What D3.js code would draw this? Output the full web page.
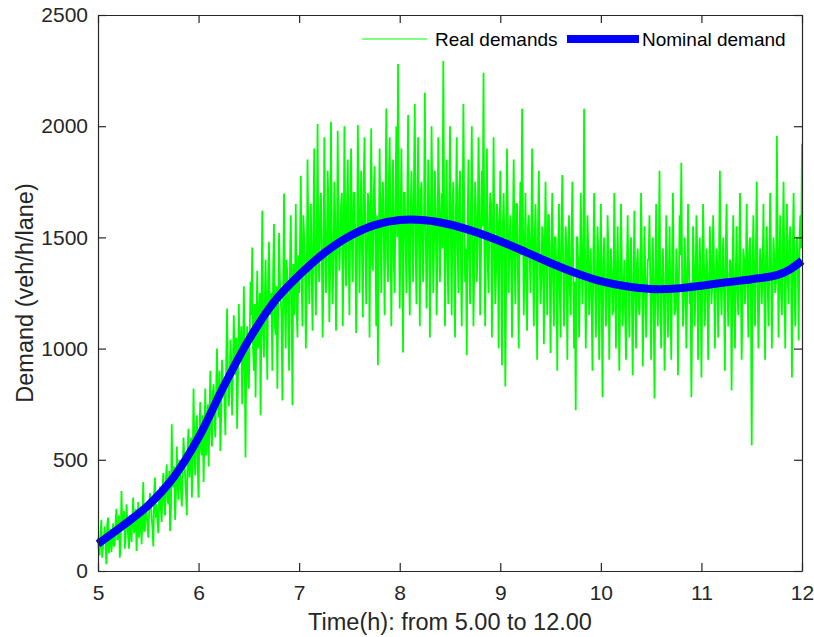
<!DOCTYPE html>
<html>
<head>
<meta charset="utf-8">
<script src="https://cdn.jsdelivr.net/npm/d3@7"></script>
<style>
  body { margin: 0; background: #fff; }
  svg { display: block; font-family: "Liberation Sans", Arial, Helvetica, sans-serif; }
</style>
</head>
<body>
<svg id="chart" width="814" height="637"></svg>
<script>
// samples on each full minute from 5:00 to 12:00
const startHour = 5;
const realDemandMinute = [
  150, 70, 230, 110, 200, 30, 240, 140, 85, 215,
  120, 280, 160, 60, 360, 190, 100, 300, 150, 250,
  130, 330, 190, 90, 310, 210, 120, 400, 180, 260,
  150, 350, 240, 110, 420, 300, 170, 380, 220, 440,
  250, 480, 300, 180, 660, 380, 230, 560, 320, 470,
  290, 600, 420, 250, 640, 500, 330, 820, 430, 700,
  330, 760, 520, 400, 820, 620, 470, 900, 560, 840,
  600, 1000, 690, 540, 950, 820, 610, 1180, 740, 1040,
  700, 1150, 880, 640, 1200, 960, 750, 1280, 510, 1100,
  820, 1300, 1454, 900, 780, 1350, 1080, 700, 1620, 960,
  1400, 860, 1480, 1150, 900, 1560, 1060, 820, 1520, 1220,
  767, 1697, 1000, 1320, 900, 1600, 745, 1150, 1650, 1050,
  1250, 1777, 1100, 1500, 1000, 1850, 1200, 1650, 1080, 1900,
  1150, 2010, 1300, 1700, 1050, 1950, 1250, 1800, 1120, 2020,
  1200, 1750, 1080, 1980, 1350, 1650, 1100, 2000, 1280, 1850,
  1150, 1900, 1300, 1700, 1070, 2005, 1250, 1800, 1140, 1950,
  1200, 1700, 1050, 1990, 1350, 1820, 1100, 925, 1900, 1250,
  1750, 1150, 2080, 1300, 1950, 1100, 1850, 1250, 2000, 2280,
  1180, 1900, 983, 1700, 1250, 2050, 1150, 1800, 1300, 2100,
  1200, 1950, 1100, 1750, 1300, 2150, 1180, 1850, 1050, 2000,
  1250, 1800, 1150, 1950, 1300, 1700, 2293, 1100, 1850, 1200,
  2000, 1150, 1750, 1050, 1950, 1250, 1800, 1100, 2100, 1300,
  970, 1850, 1200, 2000, 1100, 1750, 1300, 1950, 1150, 1800,
  2240, 1100, 1900, 1250, 1700, 1050, 1950, 1200, 1650, 1000,
  1800, 925, 1700, 830, 1900, 1250, 1600, 1050, 1850, 1200,
  1650, 1000, 1750, 2078, 1150, 1700, 1080, 1600, 1250, 1900,
  1100, 1650, 950, 1800, 1200, 1550, 1020, 1750, 1150, 1600,
  980, 1700, 1100, 1500, 900, 1650, 1050, 1780, 1100, 1550,
  950, 1600, 1150, 1750, 1000, 723, 1500, 1050, 1700, 1200,
  2078, 1000, 1600, 1150, 1450, 900, 1700, 1050, 1550, 950,
  1650, 781, 1500, 1100, 1600, 950, 1450, 1150, 1700, 1000,
  1550, 900, 1650, 1100, 1400, 950, 1600, 1050, 1500, 880,
  1620, 1000, 1450, 1150, 1700, 920, 1550, 1050, 1400, 1600,
  950, 1500, 776, 1650, 1100, 1800, 1000, 1450, 900, 1600,
  1050, 1550, 950, 1700, 1150, 1450, 880, 1600, 1836, 1100,
  1500, 1000, 1650, 1200, 781, 1550, 1100, 1600, 950, 1500,
  870, 1650, 1100, 1450, 950, 1550, 1200, 1600, 1000, 1450,
  1050, 1800, 1150, 1500, 900, 1650, 1100, 1400, 812, 1600,
  1000, 1550, 1150, 1700, 950, 1450, 1200, 1650, 1050, 1500,
  565, 1600, 1100, 1750, 1000, 1450, 1200, 1650, 950, 1550,
  1100, 1700, 1000, 1500, 1250, 1957, 1050, 1600, 1150, 1750,
  1000, 1650, 1200, 1550, 870, 1700, 1100, 1500, 1036, 1600,
  1921
];
// samples at the half minute (5:00:30, 5:01:30, ... 11:59:30)
const realDemandHalfMinute = [
  90, 170, 60, 150, 120, 210, 80, 190, 140, 110,
  220, 140, 250, 120, 200, 270, 160, 230, 100, 190,
  240, 170, 280, 200, 150, 290, 230, 180, 300, 210,
  260, 310, 190, 350, 240, 220, 330, 280, 380, 300,
  410, 320, 450, 270, 380, 470, 350, 400, 500, 360,
  430, 520, 350, 560, 420, 600, 480, 540, 620, 470,
  620, 540, 700, 600, 520, 750, 680, 630, 800, 690,
  820, 760, 900, 700, 850, 760, 940, 880, 820, 950,
  900, 1000, 1050, 870, 960, 1100, 920, 1010, 980, 880,
  1050, 1150, 1000, 1200, 1100, 1000, 1250, 1150, 1080, 1220,
  1120, 1300, 1180, 1250, 1350, 1100, 1280, 1200, 1320, 1150,
  1300, 1200, 1400, 1150, 1350, 1250, 1380, 1280, 1180, 1420,
  1450, 1300, 1600, 1380, 1250, 1500, 1420, 1320, 1550, 1400,
  1500, 1380, 1600, 1450, 1300, 1550, 1420, 1650, 1350, 1500,
  1420, 1600, 1350, 1550, 1480, 1700, 1380, 1520, 1640, 1450,
  1600, 1450, 1700, 1500, 1380, 1650, 1550, 1420, 1750, 1500,
  1450, 1650, 1550, 1380, 1700, 1480, 1600, 1420, 1550, 1680,
  1500, 1650, 1420, 1750, 1550, 1600, 1380, 1700, 1500, 1620,
  1550, 1420, 1700, 1480, 1650, 1380, 1600, 1520, 1750, 1450,
  1620, 1480, 1700, 1420, 1600, 1550, 1380, 1680, 1500, 1650,
  1480, 1600, 1380, 1700, 1550, 1450, 1650, 1520, 1400, 1620,
  1500, 1650, 1400, 1600, 1480, 1700, 1380, 1550, 1620, 1450,
  1550, 1420, 1650, 1500, 1380, 1600, 1480, 1700, 1420, 1550,
  1450, 1600, 1380, 1550, 1650, 1420, 1500, 1350, 1580, 1480,
  1400, 1550, 1450, 1300, 1600, 1480, 1380, 1520, 1420, 1650,
  1350, 1500, 1420, 1600, 1380, 1300, 1550, 1450, 1520, 1400,
  1480, 1350, 1550, 1400, 1300, 1500, 1420, 1380, 1600, 1350,
  1450, 1300, 1500, 1350, 1420, 1250, 1550, 1400, 1320, 1450,
  1400, 1250, 1480, 1350, 1300, 1500, 1380, 1280, 1450, 1350,
  1400, 1280, 1450, 1320, 1200, 1400, 1350, 1250, 1420, 1300,
  1250, 1400, 1300, 1200, 1450, 1280, 1350, 1180, 1400, 1320,
  1300, 1200, 1380, 1250, 1150, 1350, 1280, 1400, 1220, 1300,
  1250, 1380, 1200, 1300, 1420, 1180, 1330, 1250, 1400, 1280,
  1300, 1200, 1350, 1250, 1400, 1180, 1320, 1280, 1150, 1380,
  1300, 1220, 1400, 1280, 1180, 1350, 1250, 1420, 1300, 1200,
  1350, 1250, 1420, 1300, 1180, 1380, 1280, 1450, 1220, 1330,
  1300, 1400, 1250, 1350, 1200, 1420, 1300, 1380, 1250, 1350,
  1400, 1280, 1350, 1220, 1450, 1300, 1250, 1380, 1320, 1200,
  1350, 1250, 1420, 1300, 1200, 1400, 1330, 1280, 1450, 1250,
  1380, 1280, 1450, 1300, 1220, 1400, 1350, 1250, 1420, 1300,
  1350, 1450, 1280, 1400, 1300, 1500, 1380, 1250, 1450, 1350,
  1400, 1300, 1500, 1350, 1450, 1280, 1420, 1380, 1500, 1450
];

const nominalHours = [5, 5.25, 5.5, 5.75, 6, 6.25, 6.5, 6.75, 7, 7.25, 7.5, 7.75, 8,
  8.25, 8.5, 8.75, 9, 9.25, 9.5, 9.75, 10, 10.25, 10.5, 10.75, 11, 11.25, 11.5, 11.75, 11.875, 12];
const nominalDemand = [122, 205, 295, 420, 600, 830, 1040, 1210, 1330, 1430, 1505, 1555, 1578,
  1577, 1558, 1525, 1483, 1435, 1385, 1340, 1303, 1280, 1268, 1270, 1283, 1298, 1312, 1330, 1355, 1395];

const xTicks = [5, 6, 7, 8, 9, 10, 11, 12];
const yTicks = [0, 500, 1000, 1500, 2000, 2500];
const seriesNames = ["Real demands", "Nominal demand"];

let svg = d3.select("#chart");
let margin = { top: 15, right: 12, bottom: 66, left: 98 };
let width = 814 - margin.left - margin.right;
let height = 637 - margin.top - margin.bottom;
let axisColor = "#262626";

let g = svg.append("g").attr("transform", `translate(${margin.left},${margin.top})`);

let x = d3.scaleLinear().domain([5, 12]).range([0, width]);
let y = d3.scaleLinear().domain([0, 2500]).range([height, 0]);

// put the two sample sets back in time order
let realPoints = [];
realDemandMinute.forEach((v, i) => {
  realPoints.push([startHour + i / 60, v]);
  if (i < realDemandHalfMinute.length) {
    realPoints.push([startHour + (i + 0.5) / 60, realDemandHalfMinute[i]]);
  }
});

g.append("path")
  .datum(realPoints)
  .attr("fill", "none")
  .attr("stroke", "#00ff00")
  .attr("stroke-width", 1.8)
  .attr("stroke-linejoin", "miter")
  .attr("d", d3.line().x((d) => x(d[0])).y((d) => y(d[1])));

// nominal demand
g.append("path")
  .datum(nominalHours.map((h, i) => [h, nominalDemand[i]]))
  .attr("fill", "none")
  .attr("stroke", "#0000ff")
  .attr("stroke-width", 8)
  .attr("d", d3.line().curve(d3.curveCatmullRom.alpha(0.5)).x((d) => x(d[0])).y((d) => y(d[1])));

// axes, MATLAB style box with inward ticks
function styleAxis(sel) {
  sel.selectAll("path.domain").attr("stroke", axisColor).attr("stroke-width", 1.2);
  sel.selectAll(".tick line").attr("stroke", axisColor).attr("stroke-width", 1.2);
  sel.selectAll(".tick text")
    .attr("fill", axisColor)
    .style("font-size", "21px")
    .style("font-family", "'Liberation Sans', Arial, sans-serif");
}

let fmt = d3.format("d");
g.append("g")
  .attr("transform", `translate(0,${height})`)
  .call(d3.axisBottom(x).tickValues(xTicks).tickFormat(fmt).tickSizeInner(-8).tickSizeOuter(0).tickPadding(14))
  .call(styleAxis);
g.append("g")
  .call(d3.axisTop(x).tickValues(xTicks).tickSizeInner(-8).tickSizeOuter(0).tickFormat(""))
  .call(styleAxis);
g.append("g")
  .call(d3.axisLeft(y).tickValues(yTicks).tickFormat(fmt).tickSizeInner(-8).tickSizeOuter(0).tickPadding(10))
  .call(styleAxis);
g.append("g")
  .attr("transform", `translate(${width},0)`)
  .call(d3.axisRight(y).tickValues(yTicks).tickSizeInner(-8).tickSizeOuter(0).tickFormat(""))
  .call(styleAxis);

// axis labels
svg.append("text")
  .attr("x", margin.left + width / 2)
  .attr("y", 630)
  .attr("text-anchor", "middle")
  .attr("fill", axisColor)
  .style("font-size", "23.5px")
  .text("Time(h): from 5.00 to 12.00");
svg.append("text")
  .attr("transform", `translate(33,${margin.top + height / 2}) rotate(-90)`)
  .attr("text-anchor", "middle")
  .attr("fill", axisColor)
  .style("font-size", "23.5px")
  .text("Demand (veh/h/lane)");

// legend (no box)
let legend = svg.append("g").attr("transform", "translate(362,39)");
let legendItems = [
  { name: seriesNames[0], color: "#00ff00", w: 1, x0: 0, x1: 65, tx: 73 },
  { name: seriesNames[1], color: "#0000ff", w: 8, x0: 205, x1: 277, tx: 280 }
];
legendItems.forEach((d) => {
  legend.append("line")
    .attr("x1", d.x0).attr("x2", d.x1)
    .attr("y1", 0).attr("y2", 0)
    .attr("stroke", d.color)
    .attr("stroke-width", d.w);
  legend.append("text")
    .attr("x", d.tx)
    .attr("y", 7)
    .attr("fill", "#000")
    .style("font-size", "19px")
    .text(d.name);
});
</script>
</body>
</html>
